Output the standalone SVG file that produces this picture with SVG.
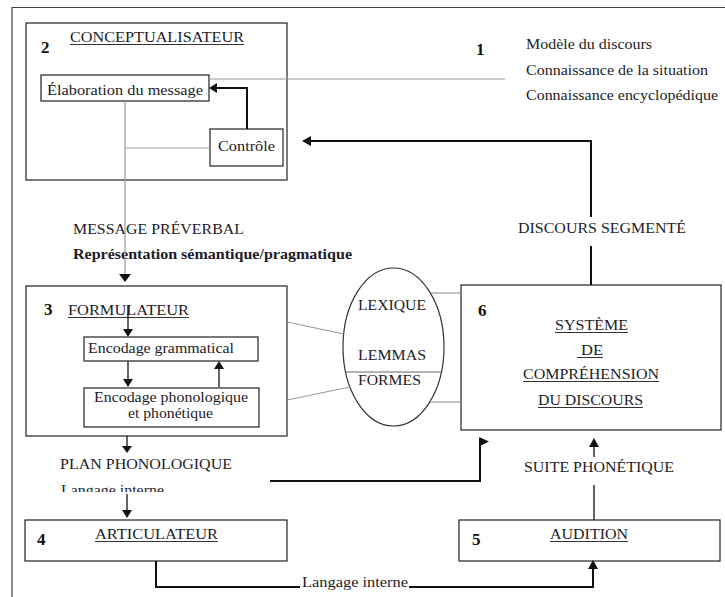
<svg xmlns="http://www.w3.org/2000/svg" width="725" height="597" viewBox="0 0 725 597">
<style>
text{font-family:"Liberation Serif","Times New Roman",serif;font-size:14px;fill:#1c1c28}
.num{font-weight:bold;font-size:17px;fill:#111}
.b{font-weight:bold}
.box{fill:none;stroke:#222;stroke-width:1.2}
.ul{stroke:#333;stroke-width:1}
.grey{stroke:#9a9a9a;stroke-width:1.2;fill:none}
.thick{stroke:#111;stroke-width:2;fill:none}
.thin{stroke:#111;stroke-width:1.3;fill:none}
.head{fill:#111}
</style>
<defs>
<clipPath id="cl"><rect x="0" y="470" width="300" height="22"/></clipPath>
</defs>
<rect width="725" height="597" fill="#fff"/>
<g id="frame"><path d="M12,597 V7.5 H725" fill="none" stroke="#444" stroke-width="1.2"/></g>

<g id="n2">
<rect class="box" x="26" y="23" width="261" height="157"/>
<text class="num" x="41" y="53">2</text>
<text x="70" y="42" textLength="174" lengthAdjust="spacingAndGlyphs">CONCEPTUALISATEUR</text>
<line class="ul" x1="70" y1="44.5" x2="244" y2="44.5"/>
</g>
<g id="elaboration">
<rect class="box" x="41" y="75" width="168" height="26"/>
<text x="47" y="95" textLength="156" lengthAdjust="spacingAndGlyphs">Élaboration du message</text>
</g>
<g id="controle">
<rect class="box" x="210" y="129" width="73" height="37"/>
<text x="218" y="151" textLength="57" lengthAdjust="spacingAndGlyphs">Contrôle</text>
</g>
<g id="n1">
<text class="num" x="476" y="55">1</text>
<text x="526" y="49" textLength="126" lengthAdjust="spacingAndGlyphs">Modèle du discours</text>
<text x="526" y="75" textLength="182" lengthAdjust="spacingAndGlyphs">Connaissance de la situation</text>
<text x="526" y="100" textLength="192" lengthAdjust="spacingAndGlyphs">Connaissance encyclopédique</text>
</g>
<g id="message">
<text x="73" y="234" textLength="171" lengthAdjust="spacingAndGlyphs">MESSAGE PRÉVERBAL</text>
<text class="b" x="73" y="259" textLength="279" lengthAdjust="spacingAndGlyphs">Représentation sémantique/pragmatique</text>
</g>
<g id="n3">
<rect class="box" x="26" y="286" width="261" height="150"/>
<text class="num" x="44" y="315">3</text>
<text x="68" y="315" textLength="121" lengthAdjust="spacingAndGlyphs">FORMULATEUR</text>
<line class="ul" x1="68" y1="317.5" x2="189" y2="317.5"/>
</g>
<g id="grammatical">
<rect class="box" x="84" y="337" width="174" height="24"/>
<text x="88" y="353" textLength="146" lengthAdjust="spacingAndGlyphs">Encodage grammatical</text>
</g>
<g id="phonologique">
<rect class="box" x="84" y="388" width="175" height="39"/>
<text x="94" y="402" textLength="154" lengthAdjust="spacingAndGlyphs">Encodage phonologique</text>
<text x="128" y="418" textLength="85" lengthAdjust="spacingAndGlyphs">et phonétique</text>
</g>
<g id="lexique">
<ellipse cx="393.5" cy="347" rx="50.5" ry="79" fill="none" stroke="#333" stroke-width="1.2"/>
<line x1="345.5" y1="372" x2="441.5" y2="372" stroke="#666" stroke-width="1.2"/>
<text x="358" y="310" textLength="68" lengthAdjust="spacingAndGlyphs">LEXIQUE</text>
<text x="358" y="360" textLength="68" lengthAdjust="spacingAndGlyphs">LEMMAS</text>
<text x="358" y="385" textLength="63" lengthAdjust="spacingAndGlyphs">FORMES</text>
</g>
<g id="n6">
<rect class="box" x="461" y="285" width="260" height="145"/>
<text class="num" x="478" y="316">6</text>
<text x="555" y="330" textLength="73" lengthAdjust="spacingAndGlyphs">SYSTÈME</text>
<line class="ul" x1="555" y1="332.5" x2="628" y2="332.5"/>
<text x="581" y="355" textLength="22" lengthAdjust="spacingAndGlyphs">DE</text>
<line class="ul" x1="577" y1="357.5" x2="603" y2="357.5"/>
<text x="523" y="379" textLength="136" lengthAdjust="spacingAndGlyphs">COMPRÉHENSION</text>
<line class="ul" x1="523" y1="381.5" x2="659" y2="381.5"/>
<text x="538" y="405" textLength="105" lengthAdjust="spacingAndGlyphs">DU DISCOURS</text>
<line class="ul" x1="538" y1="407.5" x2="643" y2="407.5"/>
</g>
<g id="segmente"><text x="518" y="233" textLength="168" lengthAdjust="spacingAndGlyphs">DISCOURS SEGMENTÉ</text></g>
<g id="plan">
<text x="60" y="469" textLength="172" lengthAdjust="spacingAndGlyphs">PLAN PHONOLOGIQUE</text>
<text x="61" y="495" textLength="103" lengthAdjust="spacingAndGlyphs" clip-path="url(#cl)">Langage interne</text>
</g>
<g id="n4">
<rect class="box" x="25" y="520" width="262" height="41"/>
<text class="num" x="37" y="545">4</text>
<text x="95" y="539" textLength="123" lengthAdjust="spacingAndGlyphs">ARTICULATEUR</text>
<line class="ul" x1="95" y1="541.5" x2="218" y2="541.5"/>
</g>
<g id="interne"><text x="302" y="587" textLength="106" lengthAdjust="spacingAndGlyphs">Langage interne</text></g>
<g id="suite"><text x="524" y="472" textLength="150" lengthAdjust="spacingAndGlyphs">SUITE PHONÉTIQUE</text></g>
<g id="n5">
<rect class="box" x="459" y="520" width="261" height="41"/>
<text class="num" x="472" y="545">5</text>
<text x="550" y="539" textLength="78" lengthAdjust="spacingAndGlyphs">AUDITION</text>
<line class="ul" x1="550" y1="541.5" x2="628" y2="541.5"/>
</g>

<g id="connectors">
<line class="grey" x1="209" y1="79" x2="505" y2="79"/>
<line class="grey" x1="210" y1="148" x2="125" y2="148"/>
<line class="grey" x1="125" y1="101" x2="125" y2="275"/>
<polygon class="head" points="119,274 131,274 125,282"/>
<path class="thick" d="M247,129 V88 H217"/>
<polygon class="head" points="217,83 209,88 217,93"/>
<path class="thick" d="M591,285 V246 M591,217 V141 H310"/>
<polygon class="head" points="311,136 302,141 311,146"/>
<line class="thin" x1="128" y1="305" x2="128" y2="331"/>
<polygon class="head" points="123,329 133,329 128,337"/>
<line class="thin" x1="128" y1="361" x2="128" y2="381"/>
<polygon class="head" points="123,379 133,379 128,387"/>
<line class="thin" x1="219" y1="387" x2="219" y2="367"/>
<polygon class="head" points="214,369 224,369 219,361"/>
<line class="grey" x1="287" y1="322" x2="343.5" y2="334"/>
<line class="grey" x1="287" y1="400" x2="350" y2="387"/>
<line class="grey" x1="430.5" y1="293" x2="461" y2="293"/>
<line class="grey" x1="430" y1="402" x2="461" y2="402"/>
<line class="thin" x1="127" y1="436" x2="127" y2="447"/>
<polygon class="head" points="122,446 132,446 127,453"/>
<line class="thin" x1="127" y1="494" x2="127" y2="511"/>
<polygon class="head" points="122,510 132,510 127,518"/>
<path class="thick" d="M270,481 H480 V439"/>
<polygon class="head" points="479,437 489,441.5 480,446"/>
<path class="thick" d="M156,561 V587 H300 M409,587 H593 V568"/>
<polygon class="head" points="588,569 598,569 593,560"/>
<path class="thin" d="M594,520 V485 M594,457 V446"/>
<polygon class="head" points="589,447 599,447 594,438"/>
</g>
</svg>
